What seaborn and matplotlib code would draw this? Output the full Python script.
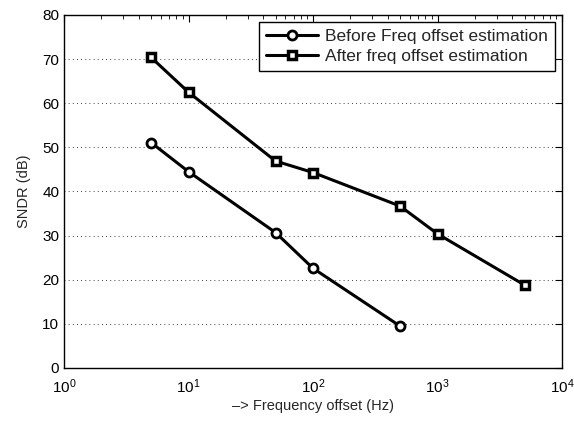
import matplotlib
matplotlib.use("Agg")
import matplotlib.pyplot as plt
import seaborn as sns
import pandas as pd
import numpy as np

before_x = [5, 10, 50, 100, 500]
before_y = [51.1, 44.5, 30.7, 22.6, 9.5]
after_x = [5, 10, 50, 100, 500, 1000, 5000]
after_y = [70.4, 62.5, 46.9, 44.3, 36.7, 30.4, 18.8]
labels = ["Before Freq offset estimation", "After freq offset estimation"]

sns.set_style("white")
plt.rcParams['font.family'] = ['Liberation Sans', 'DejaVu Sans']
plt.rcParams['xtick.direction'] = 'in'
plt.rcParams['ytick.direction'] = 'in'

fig = plt.figure(figsize=(5.74, 4.21), dpi=100)
ax = fig.add_axes([0.1115, 0.1259, 0.8676, 0.8385])

df1 = pd.DataFrame({"x": before_x, "y": before_y})
df2 = pd.DataFrame({"x": after_x, "y": after_y})
sns.lineplot(data=df1, x="x", y="y", ax=ax, color="black", linewidth=2.2,
             marker="o", markersize=6.5, markerfacecolor="white",
             markeredgecolor="black", markeredgewidth=2, label=labels[0])
sns.lineplot(data=df2, x="x", y="y", ax=ax, color="black", linewidth=2.2,
             marker="s", markersize=5.5, markerfacecolor="white",
             markeredgecolor="black", markeredgewidth=2.5, label=labels[1])

ax.set_xscale("log")
ax.set_xlim(1, 1e4)
ax.set_ylim(0, 80)
ax.set_yticks(np.arange(0, 81, 10))
ax.yaxis.grid(True, linestyle=(0, (1, 4)), color="black", linewidth=0.6)
ax.xaxis.grid(False)
ax.tick_params(which="both", top=True, right=True, labelsize=11, colors="black")
ax.tick_params(which="major", length=5)
ax.tick_params(which="minor", length=3)
ax.tick_params(axis="x", which="both", pad=7)
for s in ax.spines.values():
    s.set_color("black")
    s.set_linewidth(1)
ax.set_xlabel("\u2013> Frequency offset (Hz)", fontsize=10.5, labelpad=2)
ax.set_ylabel("SNDR (dB)", fontsize=10.5, labelpad=8)

leg = ax.legend(loc="upper right", fontsize=12.5, frameon=True, fancybox=False,
                edgecolor="black", framealpha=1, handlelength=3,
                borderaxespad=0.4, labelspacing=0.3, borderpad=0.4,
                handletextpad=0.4)
leg.get_frame().set_linewidth(1)

fig.savefig("out.png", dpi=100)
